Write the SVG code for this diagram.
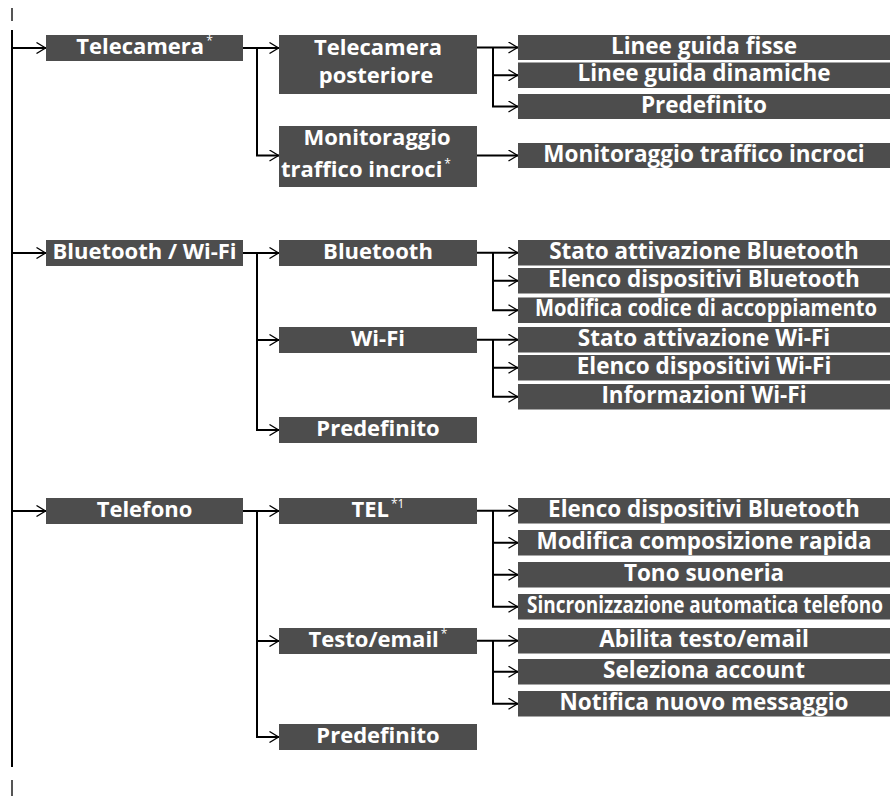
<svg xmlns="http://www.w3.org/2000/svg" width="891" height="796" viewBox="0 0 891 796">
<defs>
<marker id="chev" viewBox="0 0 10 12" refX="10" refY="6" markerWidth="10" markerHeight="12" orient="auto" markerUnits="userSpaceOnUse">
<path d="M0.5,0.5 L9.6,6 L0.5,11.5" fill="none" stroke="#000" stroke-width="1.3"/>
</marker>
</defs>
<style>
.bg{fill:#ffffff}
.box{fill:#4d4d4d}
.t{font-family:"Open Sans","DejaVu Sans",sans-serif;font-weight:700;font-size:22px;fill:#ffffff;text-anchor:middle}
.t3{font-size:22.5px}
.sup{font-weight:400;font-size:12px}
.ln{fill:none;stroke:#000;stroke-width:2}
.ar{fill:none;stroke:#000;stroke-width:2;marker-end:url(#chev)}
.tick{stroke:#555;stroke-width:2}
</style>
<rect class="bg" x="0" y="0" width="891" height="796"/>
<g id="connectors">
<line class="tick" x1="12" y1="8" x2="12" y2="21"/>
<line class="tick" x1="12" y1="780" x2="12" y2="796"/>
<path class="ln" d="M12,30 V767"/>
<path class="ar" d="M12,48 H46"/>
<path class="ar" d="M12,253 H46"/>
<path class="ar" d="M12,511 H46"/>
<path class="ar" d="M243,48 H279"/>
<path class="ar" d="M257,48 V155.5 H279"/>
<path class="ar" d="M243,253 H279"/>
<path class="ar" d="M257,253 V340 H279"/>
<path class="ar" d="M257,340 V430 H279"/>
<path class="ar" d="M243,511 H279"/>
<path class="ar" d="M257,511 V641 H279"/>
<path class="ar" d="M257,641 V737 H279"/>
<path class="ar" d="M477,47.5 H518"/>
<path class="ar" d="M493,47.5 V75.25 H518"/>
<path class="ar" d="M493,75.25 V106.5 H518"/>
<path class="ar" d="M477,155.5 H518"/>
<path class="ar" d="M477,252.75 H518"/>
<path class="ar" d="M493,252.75 V280.75 H518"/>
<path class="ar" d="M493,280.75 V310.25 H518"/>
<path class="ar" d="M477,339.75 H518"/>
<path class="ar" d="M493,339.75 V367.75 H518"/>
<path class="ar" d="M493,367.75 V396.75 H518"/>
<path class="ar" d="M477,510.75 H518"/>
<path class="ar" d="M493,510.75 V542.75 H518"/>
<path class="ar" d="M493,542.75 V574.75 H518"/>
<path class="ar" d="M493,574.75 V606.75 H518"/>
<path class="ar" d="M477,640.75 H518"/>
<path class="ar" d="M493,640.75 V671.75 H518"/>
<path class="ar" d="M493,671.75 V703.75 H518"/>
</g>
<g id="n-telecamera"><rect class="box" x="46" y="35" width="197" height="26"/><text class="t" x="144.5" y="53.5">Telecamera<tspan class="sup" dx="2" dy="-9">*</tspan></text></g>
<g id="n-telecamera-posteriore"><rect class="box" x="279" y="35" width="198" height="59"/><text class="t" x="378" y="55">Telecamera</text><text class="t" x="376" y="83">posteriore</text></g>
<g id="n-monitoraggio"><rect class="box" x="279" y="126" width="198" height="61"/><text class="t" x="377" y="145">Monitoraggio</text><text class="t" x="366" y="176.5">traffico incroci<tspan class="sup" dx="2" dy="-9">*</tspan></text></g>
<g id="n-linee-fisse"><rect class="box" x="518" y="35" width="372" height="25"/><text class="t t3" x="704" y="53.5">Linee guida fisse</text></g>
<g id="n-linee-dinamiche"><rect class="box" x="518" y="62.5" width="372" height="25.5"/><text class="t t3" x="704" y="81.2">Linee guida dinamiche</text></g>
<g id="n-cam-predefinito"><rect class="box" x="518" y="94" width="372" height="25"/><text class="t t3" x="704" y="112.5">Predefinito</text></g>
<g id="n-monitoraggio-3"><rect class="box" x="518" y="143" width="372" height="25"/><text class="t t3" x="704" y="161.5">Monitoraggio traffico incroci</text></g>
<g id="n-bt-wifi"><rect class="box" x="46" y="240" width="197" height="26"/><text class="t" x="144.5" y="258.7">Bluetooth / Wi-Fi</text></g>
<g id="n-bluetooth"><rect class="box" x="279" y="240" width="198" height="26"/><text class="t" x="378" y="258.7">Bluetooth</text></g>
<g id="n-wifi"><rect class="box" x="279" y="327" width="198" height="26"/><text class="t" x="378" y="345.7">Wi-Fi</text></g>
<g id="n-bt-predefinito"><rect class="box" x="279" y="417" width="198" height="26"/><text class="t" x="378" y="435.7">Predefinito</text></g>
<g id="n-stato-bt"><rect class="box" x="518" y="240" width="372" height="25.5"/><text class="t t3" x="704" y="258.7">Stato attivazione Bluetooth</text></g>
<g id="n-elenco-bt"><rect class="box" x="518" y="268" width="372" height="25.5"/><text class="t t3" x="704" y="286.7">Elenco dispositivi Bluetooth</text></g>
<g id="n-modifica-codice"><rect class="box" x="518" y="297.5" width="372" height="25.5"/><text class="t t3" x="706" y="316.2" textLength="342" lengthAdjust="spacingAndGlyphs">Modifica codice di accoppiamento</text></g>
<g id="n-stato-wifi"><rect class="box" x="518" y="327" width="372" height="25.5"/><text class="t t3" x="704" y="345.7">Stato attivazione Wi-Fi</text></g>
<g id="n-elenco-wifi"><rect class="box" x="518" y="355" width="372" height="25.5"/><text class="t t3" x="704" y="373.7">Elenco dispositivi Wi-Fi</text></g>
<g id="n-info-wifi"><rect class="box" x="518" y="384" width="372" height="25.5"/><text class="t t3" x="704" y="402.7">Informazioni Wi-Fi</text></g>
<g id="n-telefono"><rect class="box" x="46" y="498" width="197" height="26"/><text class="t" x="144.5" y="516.7">Telefono</text></g>
<g id="n-tel"><rect class="box" x="279" y="498" width="198" height="26"/><text class="t" x="378" y="516.7">TEL<tspan class="sup" dx="2" dy="-9">*1</tspan></text></g>
<g id="n-testo"><rect class="box" x="279" y="628" width="198" height="26"/><text class="t" x="378" y="646.7">Testo/email<tspan class="sup" dx="2" dy="-9">*</tspan></text></g>
<g id="n-tel-predefinito"><rect class="box" x="279" y="724" width="198" height="26"/><text class="t" x="378" y="742.7">Predefinito</text></g>
<g id="n-elenco-bt-tel"><rect class="box" x="518" y="498" width="372" height="25.5"/><text class="t t3" x="704" y="516.7">Elenco dispositivi Bluetooth</text></g>
<g id="n-composizione"><rect class="box" x="518" y="530" width="372" height="25.5"/><text class="t t3" x="704" y="548.7">Modifica composizione rapida</text></g>
<g id="n-tono"><rect class="box" x="518" y="562" width="372" height="25.5"/><text class="t t3" x="704" y="580.7">Tono suoneria</text></g>
<g id="n-sincronizzazione"><rect class="box" x="518" y="594" width="372" height="25.5"/><text class="t t3" x="705" y="612.7" textLength="356" lengthAdjust="spacingAndGlyphs">Sincronizzazione automatica telefono</text></g>
<g id="n-abilita"><rect class="box" x="518" y="628" width="372" height="25.5"/><text class="t t3" x="704" y="646.7">Abilita testo/email</text></g>
<g id="n-seleziona"><rect class="box" x="518" y="659" width="372" height="25.5"/><text class="t t3" x="704" y="677.7">Seleziona account</text></g>
<g id="n-notifica"><rect class="box" x="518" y="691" width="372" height="25.5"/><text class="t t3" x="704" y="709.7">Notifica nuovo messaggio</text></g>
</svg>
